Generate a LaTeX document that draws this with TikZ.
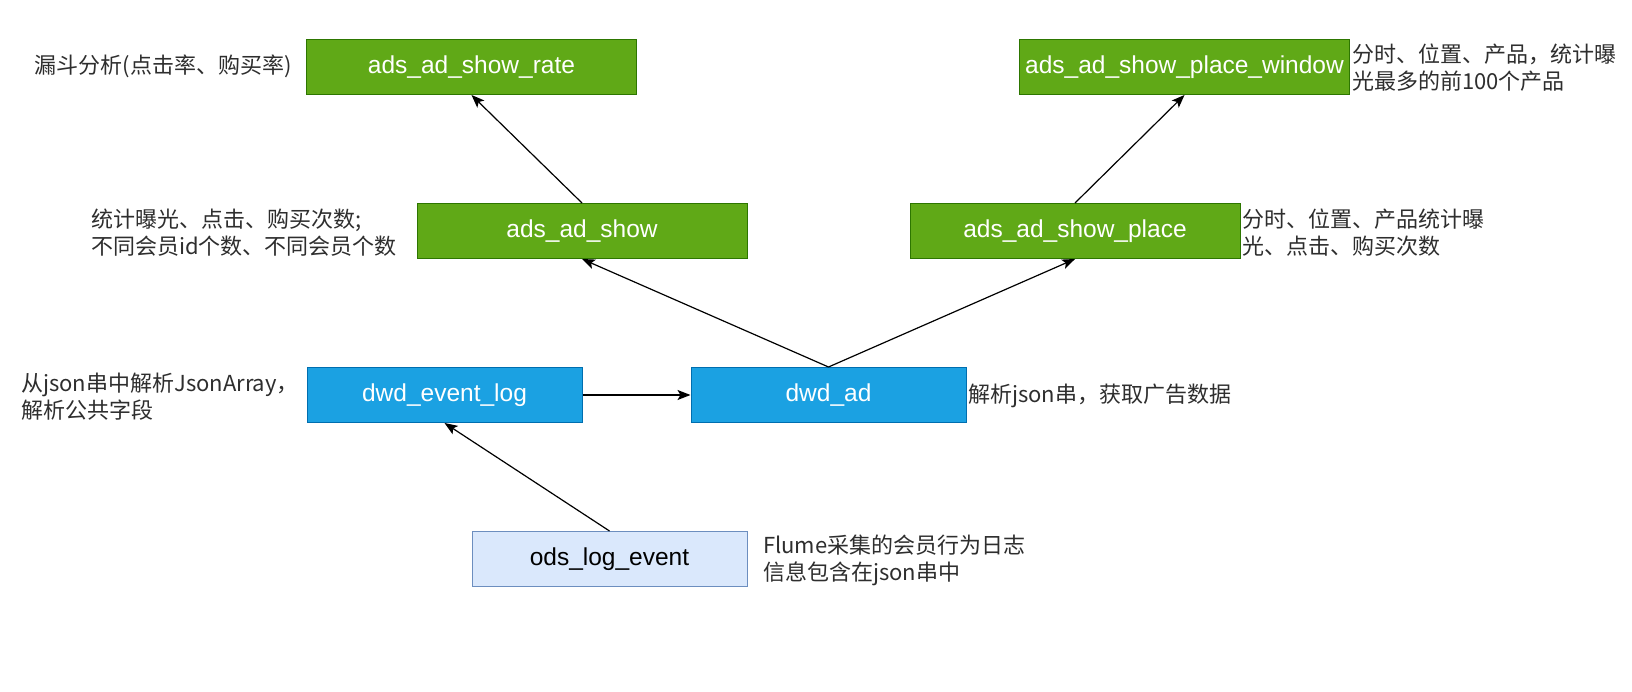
\documentclass[tikz,border=0pt]{standalone}
\usepackage{fontspec}
\setmainfont{Liberation Sans}
\newfontfamily\cjk{Noto Sans CJK SC}
\usetikzlibrary{arrows.meta}
\definecolor{gfill}{HTML}{60A917}
\definecolor{gline}{HTML}{2D7600}
\definecolor{bfill}{HTML}{1BA1E2}
\definecolor{bline}{HTML}{006EAF}
\definecolor{lfill}{HTML}{DAE8FC}
\definecolor{lline}{HTML}{6C8EBF}
\begin{document}
\begin{tikzpicture}[x=1pt,y=-1pt,
  box/.style={draw, line width=1pt, minimum height=55pt, inner sep=0pt,
    font=\fontsize{24.5}{28}\selectfont},
  gbox/.style={box, minimum width=330pt, fill=gfill, draw=gline, text=white},
  bbox/.style={box, minimum width=275pt, fill=bfill, draw=bline, text=white},
  lbox/.style={box, minimum width=275pt, fill=lfill, draw=lline, text=black},
  note/.style={font=\cjk\fontsize{22}{27}\selectfont, align=left, inner sep=0pt, text=black!82},
  arr/.style={-{Stealth[length=13pt,width=10pt,inset=3pt]}, line width=1.2pt, draw=black}
]
\useasboundingbox[fill=white] (0,0) rectangle (1632,692);

\node[gbox] (rate)   at (471.5,67)  {ads\_ad\_show\_rate};
\node[gbox] (window) at (1184.5,67) {ads\_ad\_show\_place\_window};
\node[gbox] (show)   at (582,231)   {ads\_ad\_show};
\node[gbox] (place)  at (1075,231)  {ads\_ad\_show\_place};
\node[bbox] (evlog)  at (444.5,395) {dwd\_event\_log};
\node[bbox] (dwdad)  at (828.5,395) {dwd\_ad};
\node[lbox] (ods)    at (609.5,559) {ods\_log\_event};

\node[note, anchor=east] (nrate) at (292,66) {漏斗分析(点击率、购买率)};
\node[note, anchor=west] (nwin) at (1352,67.5) {分时、位置、产品，统计曝\\光最多的前100个产品};
\node[note, anchor=west] (nshow) at (91,232.5) {统计曝光、点击、购买次数;\\不同会员id个数、不同会员个数};
\node[note, anchor=west] (nplace) at (1242,233) {分时、位置、产品统计曝\\光、点击、购买次数};
\node[note, anchor=west] (nev) at (21,397) {从json串中解析JsonArray，\\解析公共字段};
\node[note, anchor=west] (nad) at (968,396) {解析json串，获取广告数据};
\node[note, anchor=west] (nods) at (763,560) {Flume采集的会员行为日志\\信息包含在json串中};

\draw[arr] (show.north) -- (rate.south);
\draw[arr] (place.north) -- (window.south);
\draw[arr] (dwdad.north) -- (show.south);
\draw[arr] (dwdad.north) -- (place.south);
\draw[arr] (evlog.east) -- (dwdad.west);
\draw[arr] (ods.north) -- (evlog.south);
\end{tikzpicture}
\end{document}
